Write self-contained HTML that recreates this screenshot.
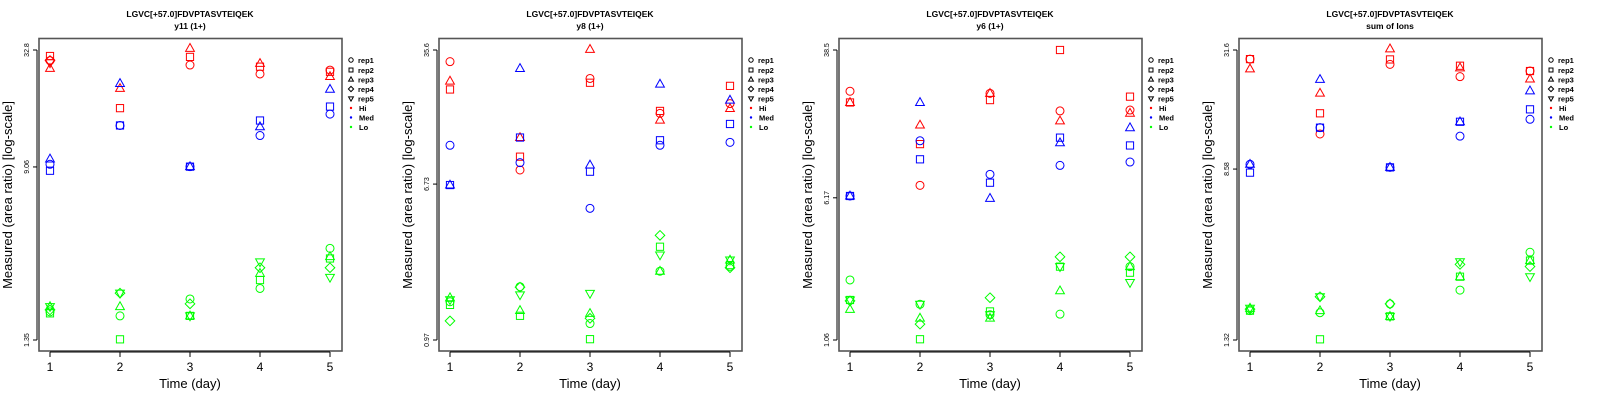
<!DOCTYPE html>
<html><head><meta charset="utf-8"><style>
html,body{margin:0;padding:0;background:#fff;}
svg{display:block;font-family:"Liberation Sans",sans-serif;}
</style></head><body>
<svg id="c" width="1600" height="400" xmlns="http://www.w3.org/2000/svg"></svg>
<script>
const days = [1, 2, 3, 4, 5];
const repNames = ["rep1", "rep2", "rep3", "rep4", "rep5"];
const groupNames = ["Hi", "Med", "Lo"];
const panelTitles = ["y11 (1+)", "y8 (1+)", "y6 (1+)", "sum of Ions"];
const peptide = "LGVC[+57.0]FDVPTASVTEIQEK";
const yMins = [1.35, 0.97, 1.06, 1.32];
const yMaxs = [32.8, 35.6, 38.5, 31.6];
const yMids = [9.06, 6.73, 6.17, 8.58];

// values[day][rep]; null = not visible
const p1Hi = [[29.2,30.7,26.8,29.2,28.5],[null,17.3,21.5,null,null],[27.8,30.4,33.4,null,null],[25.2,27.3,28.3,null,null],[26.3,25.8,24.5,null,null]];
const p1Med = [[9.33,8.69,9.89,null,null],[14.3,14.3,22.7,null,null],[9.09,9.09,9.09,null,null],[12.8,15.1,14.1,null,null],[16.2,17.6,21.3,null,null]];
const p1Lo = [[1.84,1.81,1.95,1.88,1.95],[1.76,1.36,1.95,2.26,2.26],[2.12,1.76,1.76,2.01,1.76],[2.38,2.61,2.81,2.99,3.19],[3.70,3.31,3.38,2.99,2.69]];

const p2Hi = [[30.8,21.8,24.2,null,null],[8.02,9.46,12.0,null,null],[25.0,23.7,35.9,null,null],[16.2,16.7,14.9,null,null],[18.3,22.8,17.2,null,null]];
const p2Med = [[10.9,6.65,6.65,null,null],[8.78,12.0,28.3,null,null],[4.98,7.85,8.53,null,null],[10.9,11.6,23.3,null,null],[11.3,14.2,19.1,null,null]];
const p2Lo = [[1.56,1.50,1.64,1.23,1.60],[1.88,1.31,1.40,1.87,1.70],[1.19,0.98,1.35,1.27,1.73],[2.28,3.09,2.28,3.56,2.79],[2.42,2.46,2.62,2.38,2.62]];

const p3Hi = [[23.1,20.1,20.1,null,null],[7.2,12.0,15.2,null,null],[22.5,20.7,22.5,null,null],[18.1,38.5,16.0,null,null],[18.3,21.6,17.6,null,null]];
const p3Med = [[6.31,6.31,6.31,null,null],[12.5,9.94,20.1,null,null],[8.25,7.44,6.13,null,null],[9.22,13.0,12.2,null,null],[9.61,11.8,14.7,null,null]];
const p3Lo = [[2.23,1.74,1.55,1.72,1.74],[1.65,1.07,1.39,1.29,1.65],[1.45,1.51,1.39,1.79,1.45],[1.46,2.63,1.95,2.97,2.63],[2.63,2.44,2.63,2.97,2.16]];

const p4Hi = [[28.6,28.6,25.7,null,null],[12.6,15.8,19.7,null,null],[27.0,28.5,32.0,null,null],[23.6,26.6,26.0,null,null],[25.1,25.1,23.0,null,null]];
const p4Med = [[9.04,8.25,9.04,null,null],[13.5,13.5,22.9,null,null],[8.74,8.74,8.74,null,null],[12.3,14.4,14.4,null,null],[14.8,16.5,20.2,null,null]];
const p4Lo = [[1.82,1.82,1.87,1.85,1.87],[1.78,1.33,1.82,2.12,2.12],[1.96,1.71,1.71,1.96,1.71],[2.28,2.64,2.64,3.02,3.11],[3.45,3.15,3.15,2.95,2.64]];

const panelData = [[p1Hi,p1Med,p1Lo],[p2Hi,p2Med,p2Lo],[p3Hi,p3Med,p3Lo],[p4Hi,p4Med,p4Lo]];
const groupColors = ["#ff0000", "#0000ff", "#00ff00"];

const NS = "http://www.w3.org/2000/svg";
const svg = document.getElementById("c");
function mk(tag, attrs, parent) {
  const e = document.createElementNS(NS, tag);
  for (const k in attrs) e.setAttribute(k, attrs[k]);
  parent.appendChild(e);
  return e;
}
function marker(parent, rep, cx, cy, col, s) {
  let e;
  if (rep === 0) e = mk("circle", {cx: cx, cy: cy, r: 4*s, fill: "none", stroke: col, "stroke-width": 1}, parent);
  else if (rep === 1) e = mk("rect", {x: cx-3.6*s, y: cy-3.6*s, width: 7.2*s, height: 7.2*s, fill: "none", stroke: col, "stroke-width": 1}, parent);
  else if (rep === 2) e = mk("polygon", {points: `${cx},${cy-4.8*s} ${cx+4.4*s},${cy+3*s} ${cx-4.4*s},${cy+3*s}`, fill: "none", stroke: col, "stroke-width": 1}, parent);
  else if (rep === 3) e = mk("polygon", {points: `${cx},${cy-4.8*s} ${cx+4.8*s},${cy} ${cx},${cy+4.8*s} ${cx-4.8*s},${cy}`, fill: "none", stroke: col, "stroke-width": 1}, parent);
  else e = mk("polygon", {points: `${cx},${cy+4.8*s} ${cx+4.4*s},${cy-3*s} ${cx-4.4*s},${cy-3*s}`, fill: "none", stroke: col, "stroke-width": 1}, parent);
  return e;
}

for (let p = 0; p < 4; p++) {
  const ox = p * 400;
  const g = mk("g", {}, svg);
  
  
  const lmin = Math.log(yMins[p]), lmax = Math.log(yMaxs[p]);
  const yS = v => 340 - (Math.log(v) - lmin) / (lmax - lmin) * 290;
  const xS = d => ox + 50 + (d - 1) * 70;

  const t1 = mk("text", {x: ox+190, y: 17, "text-anchor": "middle", "font-size": 8.5, "font-weight": "bold"}, g);
  t1.textContent = peptide;
  
  
  const t2 = mk("text", {x: ox+190, y: 29, "text-anchor": "middle", "font-size": 8.5, "font-weight": "bold"}, g);
  t2.textContent = panelTitles[p];
  
  

  const box = mk("rect", {x: ox+39, y: 38.5, width: 303, height: 312.5, fill: "none", stroke: "#555", "stroke-width": 1.6}, g);
  
  

  // x axis
  const xa = mk("g", {}, g);
  
  
  mk("line", {x1: xS(1), x2: xS(5), y1: 352, y2: 352, stroke: "#000", "stroke-width": 1}, xa);
  days.forEach(d => {
    mk("line", {x1: xS(d), x2: xS(d), y1: 352, y2: 357, stroke: "#000", "stroke-width": 1}, xa);
    const tl = mk("text", {x: xS(d), y: 371, "text-anchor": "middle", "font-size": 12}, xa);
    tl.textContent = d;
    
    
  });
  const xt = mk("text", {x: ox+190, y: 388, "text-anchor": "middle", "font-size": 13}, g);
  xt.textContent = "Time (day)";
  
  

  // y axis
  const ya = mk("g", {}, g);
  
  
  const yTicks = [yMins[p], yMids[p], yMaxs[p]];
  mk("line", {x1: ox+37, x2: ox+37, y1: yS(yMins[p]), y2: yS(yMaxs[p]), stroke: "#000", "stroke-width": 1}, ya);
  yTicks.forEach(v => {
    mk("line", {x1: ox+33, x2: ox+37, y1: yS(v), y2: yS(v), stroke: "#000", "stroke-width": 1}, ya);
    const tl = mk("text", {x: 0, y: 0, "text-anchor": "middle", "font-size": 7, transform: `translate(${ox+29},${yS(v)}) rotate(-90)`}, ya);
    tl.textContent = String(v);
    
    
  });
  const yt = mk("text", {x: 0, y: 0, "text-anchor": "middle", "font-size": 13, transform: `translate(${ox+12},195) rotate(-90)`}, g);
  yt.textContent = "Measured (area ratio) [log-scale]";
  
  

  // points
  const pts = mk("g", {}, g);
  
  
  panelData[p].forEach((grp, gi) => {
    grp.forEach((row, di) => {
      row.forEach((v, ri) => {
        if (v === null) return;
        const m = marker(pts, ri, xS(days[di]), yS(v), groupColors[gi], 1);
        
        
      });
    });
  });

  // legend
  const lg = mk("g", {}, g);
  
  
  const rowsY = [60, 70, 79.5, 89, 98.5, 108, 117.5, 127];
  repNames.forEach((r, i) => {
    const e = mk("g", {}, lg);
    
    
    marker(e, i, ox+351, rowsY[i], "#000", 0.55);
    const t = mk("text", {x: ox+358, y: rowsY[i]+2.8, "font-size": 7.5, "font-weight": "bold"}, e);
    t.textContent = r;
  });
  groupNames.forEach((n, i) => {
    const e = mk("g", {}, lg);
    
    
    mk("circle", {cx: ox+351, cy: rowsY[5+i], r: 1.2, fill: groupColors[i]}, e);
    const t = mk("text", {x: ox+359, y: rowsY[5+i]+2.8, "font-size": 7.5, "font-weight": "bold"}, e);
    t.textContent = n;
  });
}
</script>
</body></html>
